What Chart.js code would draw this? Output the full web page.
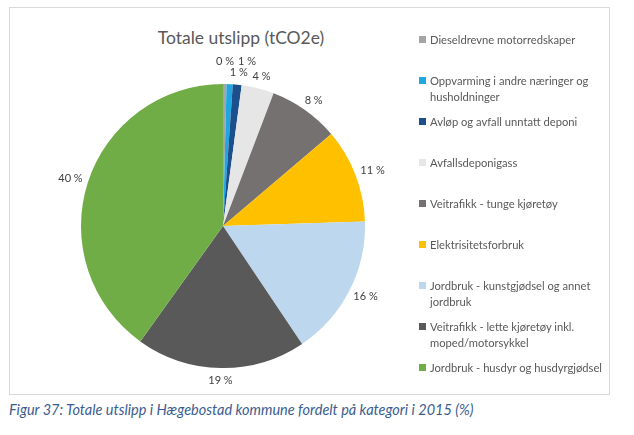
<!DOCTYPE html>
<html lang="no">
<head>
<meta charset="UTF-8">
<title>Totale utslipp (tCO2e)</title>
<style>
    * { margin: 0; padding: 0; box-sizing: border-box; }
    body {
        width: 634px;
        height: 435px;
        background: #fff;
        font-family: Lato, "Open Sans", sans-serif;
        position: relative;
        overflow: hidden;
    }
    .frame {
        position: absolute;
        left: 9px;
        top: 7px;
        width: 601px;
        height: 388px;
        border: 1px solid #d9d9d9;
    }
    .title {
        position: absolute;
        left: 9px;
        top: 27px;
        width: 464px;
        text-align: center;
        font-size: 17.5px;
        line-height: 22px;
        color: #595959;
    }
    #chart-wrap {
        position: absolute;
        left: 9px;
        top: 7px;
        width: 462px;
        height: 387px;
    }
    #legend {
        position: absolute;
        left: 419px;
        top: 32px;
        width: 190px;
        list-style: none;
    }
    #legend li {
        display: flex;
        align-items: flex-start;
        height: 41px;
        font-size: 11.2px;
        line-height: 16px;
        color: #595959;
    }
    #legend .box {
        flex: none;
        width: 7px;
        height: 7px;
        margin: 4px 4px 0 0;
    }
    .caption {
        position: absolute;
        left: 9px;
        top: 401px;
        font-style: italic;
        font-size: 14.5px;
        color: #3a5d8f;
    }
</style>
</head>
<body>
<div class="frame"></div>
<div class="title">Totale utslipp (tCO2e)</div>
<div id="chart-wrap"><canvas id="pie"></canvas></div>
<ul id="legend"></ul>
<div class="caption">Figur 37: Totale utslipp i Hægebostad kommune fordelt på kategori i 2015 (%)</div>

<script src="https://cdn.jsdelivr.net/npm/chart.js"></script>
<script>
const categories = [
    'Dieseldrevne motorredskaper',
    'Oppvarming i andre næringer og husholdninger',
    'Avløp og avfall unntatt deponi',
    'Avfallsdeponigass',
    'Veitrafikk - tunge kjøretøy',
    'Elektrisitetsforbruk',
    'Jordbruk - kunstgjødsel og annet jordbruk',
    'Veitrafikk - lette kjøretøy inkl. moped/motorsykkel',
    'Jordbruk - husdyr og husdyrgjødsel'
];
const shares = [0.4, 0.7, 1.0, 3.7, 8.0, 10.7, 16.1, 19.3, 40.1];
const colors = ['#a5a5a5', '#1ea7e1', '#1c4f8c', '#e7e6e6', '#767171', '#ffc000', '#bdd7ee', '#595959', '#70ad47'];

// HTML legend, wraps like the original
const legendEl = document.getElementById('legend');
categories.forEach((name, i) => {
    const li = document.createElement('li');
    li.innerHTML = '<span class="box" style="background:' + colors[i] + '"></span><span>' + name + '</span>';
    legendEl.appendChild(li);
});

// labels outside the slice ends; crowded ones go up one row, left to right
const outsideLabels = {
    id: 'outsideLabels',
    afterDatasetsDraw(chart) {
        const ctx = chart.ctx;
        const meta = chart.getDatasetMeta(0);
        ctx.save();
        ctx.font = '11px Lato, "Open Sans", sans-serif';
        ctx.fillStyle = '#404040';
        ctx.textAlign = 'center';
        ctx.textBaseline = 'middle';
        const h = 12;

        const boxes = meta.data.map((arc, i) => {
            const { x, y, startAngle, endAngle, outerRadius } = arc.getProps(['x', 'y', 'startAngle', 'endAngle', 'outerRadius'], true);
            const mid = (startAngle + endAngle) / 2;
            const text = Math.round(shares[i]) + ' %';
            const w = ctx.measureText(text).width;
            const r = outerRadius + 6;
            return {
                x: x + Math.cos(mid) * (r + w / 2),
                y: y + Math.sin(mid) * (r + h / 2),
                w: w + 2,
                text
            };
        });

        const hits = (a, b) => Math.abs(a.x - b.x) < (a.w + b.w) / 2 && Math.abs(a.y - b.y) < h;
        const low = [];
        const raised = [];
        for (let i = boxes.length - 1; i >= 0; i--) {
            const b = boxes[i];
            if (low.some(p => hits(p, b))) raised.unshift(b);
            else low.push(b);
        }
        let right = -Infinity;
        raised.forEach(b => {
            b.y -= h - 1;
            b.x = Math.max(b.x, right + 2 + b.w / 2);
            right = b.x + b.w / 2;
        });

        boxes.forEach(b => ctx.fillText(b.text, b.x, b.y));
        ctx.restore();
    }
};

new Chart(document.getElementById('pie'), {
    type: 'pie',
    data: {
        labels: categories,
        datasets: [{
            data: shares,
            backgroundColor: colors,
            borderWidth: 0
        }]
    },
    options: {
        responsive: true,
        maintainAspectRatio: false,
        animation: false,
        layout: { padding: { left: 20, right: 54, top: 77, bottom: 26 } },
        plugins: {
            legend: { display: false },
            tooltip: { enabled: false },
            title: { display: false }
        }
    },
    plugins: [outsideLabels]
});
</script>
</body>
</html>
